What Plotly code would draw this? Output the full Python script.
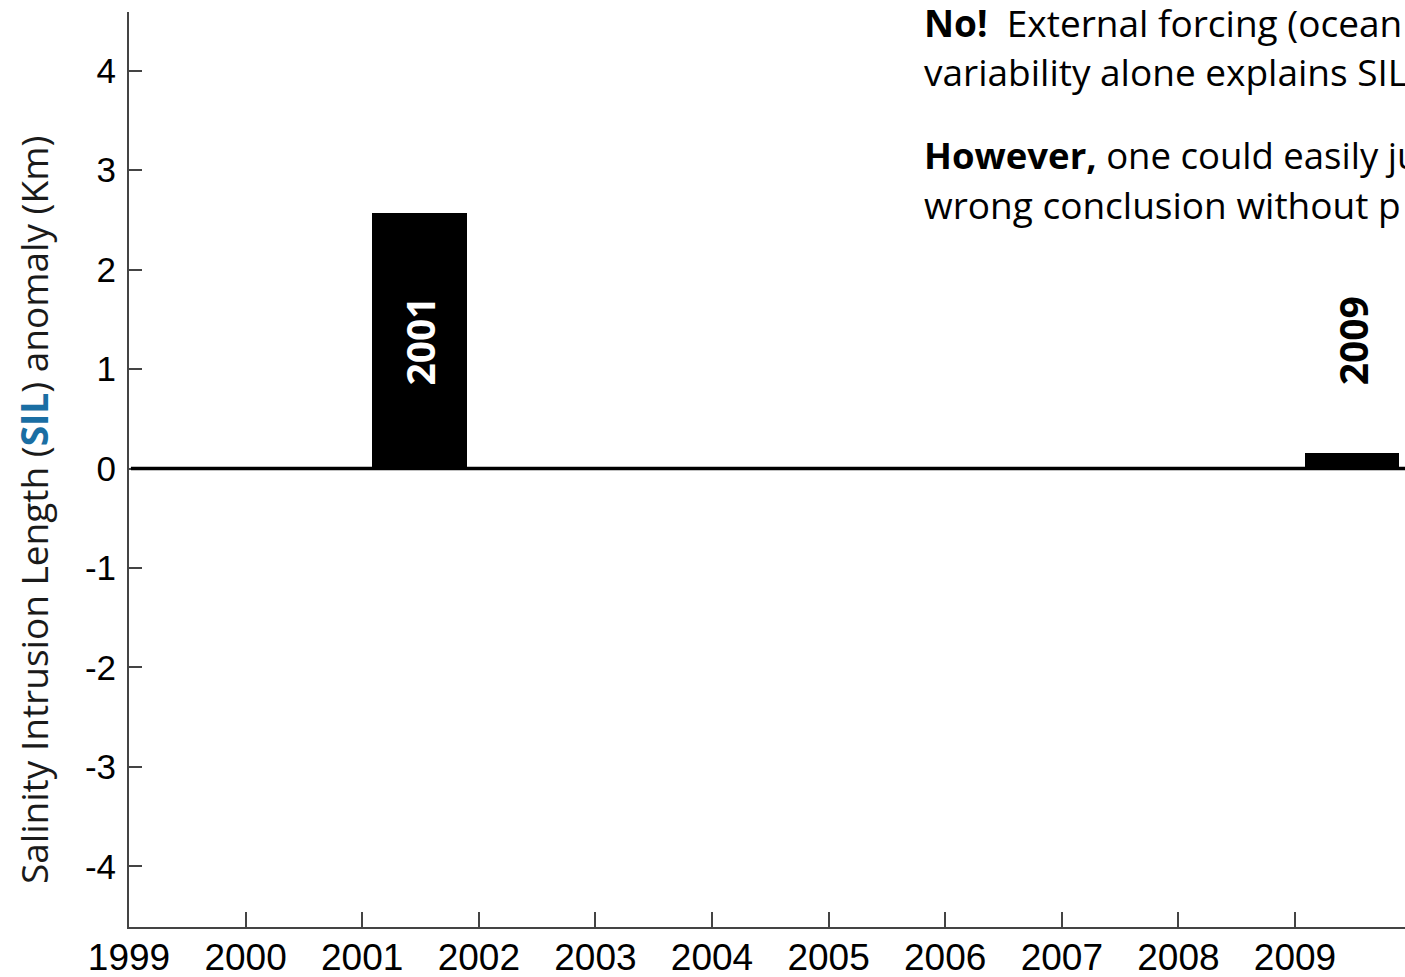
import plotly.graph_objects as go

# ---- data ----
years = [1999, 2000, 2001, 2002, 2003, 2004, 2005, 2006, 2007, 2008, 2009]
sil_anomaly = [0, 0, 2.57, 0, 0, 0, 0, 0, 0, 0, 0.16]
labelled_years = [2001, 2009]
label_colors = ["white", "black"]
y_ticks = [-4, -3, -2, -1, 0, 1, 2, 3, 4]

text_lines = [
    "<b>No!</b>  External forcing (ocean",
    "variability alone explains SIL",
    "<b>However,</b> one could easily ju",
    "wrong conclusion without p",
]

W, H = 1405, 977
L, R, T, B = 129, 0, 12, 50
PW, PH = W - L - R, H - T - B


def px_x(px):
    return (px - L) / PW


def px_y(py):
    return (H - B - py) / PH


fig = go.Figure()
fig.add_trace(go.Bar(
    x=years, y=sil_anomaly, width=0.81, offset=0.085,
    marker=dict(color="black", line=dict(width=0)),
    showlegend=False, hoverinfo="x+y",
))

# zero reference line drawn above ticks
fig.add_shape(type="line", xref="paper", yref="y", x0=0.0015, x1=1, y0=0, y1=0,
              line=dict(color="black", width=3.5), layer="above")

annotations = []
for yr, col in zip(labelled_years, label_colors):
    annotations.append(dict(
        x=yr + 0.49, y=1.28, xref="x", yref="y", text=f"<b>{yr}</b>",
        textangle=-90, showarrow=False,
        font=dict(family="Open Sans", size=39, color=col),
        xanchor="center", yanchor="middle",
    ))

annotations.append(dict(
    x=px_x(33), y=px_y(510), xref="paper", yref="paper",
    text="Salinity Intrusion Length (<b><span style='color:#1a6ea3'>SIL</span></b>) anomaly (Km)",
    textangle=-90, showarrow=False,
    font=dict(family="Open Sans", size=37, color="#1a1a1a"),
    xanchor="center", yanchor="middle",
))

line_mid = [22, 72, 155, 205]
line_size = [37, 37, 36.5, 37]
for i, txt in enumerate(text_lines):
    annotations.append(dict(
        x=px_x(922), y=px_y(line_mid[i]), xref="paper", yref="paper",
        text=txt, showarrow=False, align="left",
        font=dict(family="Open Sans", size=line_size[i], color="black"),
        xanchor="left", yanchor="middle",
    ))

fig.update_layout(
    width=W, height=H,
    margin=dict(l=L, r=R, t=T, b=B, pad=0, autoexpand=False),
    paper_bgcolor="white", plot_bgcolor="white",
    bargap=0,
    annotations=annotations,
    xaxis=dict(
        range=[1999, 1999 + PW / 116.6],
        tickmode="array", tickvals=years, ticktext=[str(y) for y in years],
        ticks="inside", ticklen=15, tickwidth=2, tickcolor="#444444",
        showline=True, linecolor="#444444", linewidth=2,
        showgrid=False, zeroline=False, automargin=False,
        tickfont=dict(family="Liberation Sans", size=37, color="black"),
        ticklabelstandoff=-3,
    ),
    yaxis=dict(
        range=[-4.61, 4.59],
        tickmode="array", tickvals=y_ticks, ticktext=[str(v) for v in y_ticks],
        ticks="inside", ticklen=13, tickwidth=2, tickcolor="#444444",
        showline=True, linecolor="#444444", linewidth=2,
        showgrid=False, automargin=False, zeroline=False,
        tickfont=dict(family="Liberation Sans", size=35, color="black"),
        ticklabelstandoff=4,
    ),
)

fig.write_html(
    "out.html",
    config={"displayModeBar": False},
    post_script="document.body.style.margin='0';document.body.style.overflow='hidden';",
)
